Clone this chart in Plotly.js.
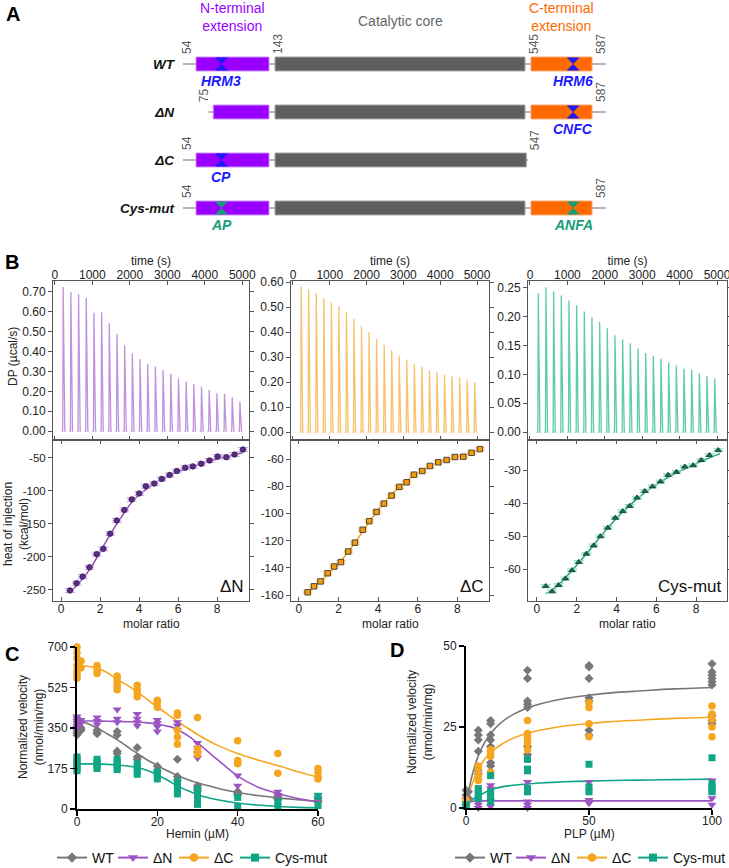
<!DOCTYPE html>
<html>
<head>
<meta charset="utf-8">
<script src="https://cdn.plot.ly/plotly-3.0.1.min.js"></script>
<style>
  html, body { margin: 0; padding: 0; background: #fff; }
  #fig { width: 729px; height: 868px; }
</style>
</head>
<body>
<div id="fig"></div>
<script>
// ================= A: construct map (residue numbers) =================
const constructs   = ['WT', 'ΔN', 'ΔC', 'Cys-mut'];
const nextStart    = [54, 75, 54, 54];
const nextEnd      = [143, 143, 143, 143];
const coreStart    = [143, 143, 143, 143];
const coreEnd      = [545, 545, 547, 545];
const cextStart    = [545, 545, null, 545];
const cextEnd      = [587, 587, null, 587];
const motifNPos    = [85, null, 85, 85];
const motifNLabel  = ['HRM3', '', 'CP', 'AP'];
const motifCPos    = [574, 574, null, 574];
const motifCLabel  = ['HRM6', 'CNFC', '', 'ANFA'];
const motifMutated = [false, false, false, true];
const boundaryLabels = [[54, 143, 545, 587], [75, 587], [54, 547], [54, 587]];

// ================= B: ITC =================
const injTime = [210, 415, 620, 825, 1030, 1235, 1440, 1645, 1850, 2055, 2260, 2465,
                 2670, 2875, 3080, 3285, 3490, 3695, 3900, 4105, 4310, 4515, 4720, 4925];
const dpDN  = [0.725, 0.700, 0.690, 0.670, 0.595, 0.598, 0.542, 0.488, 0.432, 0.392, 0.362, 0.337,
               0.325, 0.307, 0.287, 0.265, 0.248, 0.237, 0.223, 0.207, 0.190, 0.187, 0.170, 0.148];
const dpDC  = [0.582, 0.569, 0.556, 0.536, 0.519, 0.503, 0.480, 0.453, 0.423, 0.399, 0.372, 0.350,
               0.327, 0.306, 0.290, 0.273, 0.261, 0.247, 0.239, 0.230, 0.223, 0.219, 0.210, 0.199];
const dpCys = [0.241, 0.251, 0.244, 0.237, 0.228, 0.220, 0.209, 0.199, 0.191, 0.180, 0.168, 0.161,
               0.154, 0.145, 0.137, 0.132, 0.127, 0.121, 0.116, 0.110, 0.108, 0.101, 0.097, 0.093];

const mrDN   = [0.46, 0.80, 1.11, 1.46, 1.83, 2.17, 2.52, 2.86, 3.25, 3.63, 4.01, 4.35,
                4.78, 5.17, 5.57, 5.94, 6.37, 6.76, 7.19, 7.62, 8.03, 8.48, 8.90, 9.33];
const heatDN = [-251, -240, -230, -216, -196, -188, -165, -145, -129, -113, -104, -93,
                -89, -82, -76, -70, -65, -63, -59, -54, -48, -49, -45, -37.5];
const fitDNx = [0.45, 1, 1.5, 2, 2.5, 3, 3.5, 4, 4.5, 5, 5.5, 6, 6.5, 7, 7.5, 8, 8.5, 9, 9.3];
const fitDNy = [-254, -237, -218, -193, -167, -144, -122, -106, -95, -85, -78, -71, -66, -61, -56.5, -52, -48.5, -45, -42];

const mrDC   = [0.44, 0.76, 1.09, 1.45, 1.78, 2.12, 2.49, 2.83, 3.22, 3.55, 3.92, 4.29,
                4.68, 5.07, 5.44, 5.81, 6.23, 6.62, 7.04, 7.46, 7.88, 8.30, 8.72, 9.14];
const heatDC = [-158, -153.6, -150, -144, -139, -135.8, -128, -121.5, -112, -105.7, -98.9, -92.8,
                -86.9, -80.5, -77.1, -71.5, -68.8, -65.1, -62.4, -60.7, -58.5, -58.3, -55.4, -52.7];
const fitDCx = [0.4, 1, 1.5, 2, 2.5, 3, 3.5, 4, 4.5, 5, 5.5, 6, 6.5, 7, 7.5, 8, 8.5, 9, 9.2];
const fitDCy = [-159, -151, -144, -137, -128, -118, -107.5, -97.5, -89, -81.5, -75.5, -70.5, -66.5, -63, -60.5, -58.5, -56.5, -54, -53];

const mrCys   = [0.44, 0.76, 1.09, 1.43, 1.76, 2.10, 2.48, 2.85, 3.19, 3.56, 3.94, 4.31,
                 4.66, 5.03, 5.42, 5.81, 6.21, 6.59, 7.01, 7.43, 7.85, 8.26, 8.67, 9.11];
const heatCys = [-65.2, -66.8, -64.9, -62.9, -60.4, -57.9, -55.4, -52.9, -50.1, -47.5, -44.5, -42.5,
                 -40.9, -38.4, -36.4, -35.0, -33.5, -31.5, -30.6, -29.0, -28.6, -27.0, -25.5, -24.0];
const fitCysX = [0.44, 1, 1.5, 2, 2.5, 3, 3.5, 4, 4.5, 5, 5.5, 6, 6.5, 7, 7.5, 8, 8.5, 9, 9.2];
const fitCysY = [-67.5, -65.3, -62.2, -58.8, -55.3, -51.6, -48, -44.6, -41.6, -38.9, -36.5, -34.4, -32.5, -30.9, -29.5, -28.1, -26.8, -25.5, -25];

// ================= C: hemin inhibition =================
const heminWT  = [0, 1, 5, 10, 15, 20, 25, 30, 40, 50, 60];
const velWT    = [[355, 340, 330, 320], [350, 340], [340, 330, 325], [335, 320, 250, 240], [265, 225, 215],
                  [185, 165], [215, 140, 125], [100, 90, 80], [75, 65, 60], [55, 45, 40], [45, 35, 30]];
const heminDN  = [0, 1, 5, 10, 15, 20, 25, 30, 40, 50, 60];
const velDN    = [[400, 390, 380, 370, 360, 350], [385, 370], [395, 380, 365], [430, 390, 375], [410, 390, 375, 360],
                  [385, 370, 355, 335], [375, 360, 340], [285, 265, 240, 220], [145, 100], [75, 60], [60, 45]];
const heminDC  = [0, 1, 5, 10, 15, 20, 25, 30, 40, 50, 60];
const velDC    = [[700, 675, 650, 620, 600, 585, 575, 565], [640, 610], [620, 610, 595, 585], [575, 560, 545, 530, 515],
                  [535, 515, 500, 485], [470, 460, 440], [415, 405, 340, 310, 280], [395, 260, 245, 235],
                  [295, 210, 200, 195], [240, 155], [175, 160, 140, 130]];
const heminCys = [0, 5, 10, 15, 20, 25, 30, 40, 50, 60];
const velCys   = [[225, 215, 205, 195, 185, 175, 165], [215, 205, 195, 185, 175], [215, 205, 195, 180, 170],
                  [195, 180, 165, 150], [160, 145, 130], [120, 100, 80, 65], [85, 60, 35, 20], [50, 10], [30, 10], [55, 15]];

const heminFitX = [0, 2.5, 5, 7.5, 10, 12.5, 15, 17.5, 20, 22.5, 25, 27.5, 30, 35, 40, 45, 50, 55, 60];
const fitC_WT   = [378, 370, 350, 325, 300, 270, 240, 212, 188, 165, 145, 128, 113, 90, 71, 58, 48, 40, 33];
const fitC_DN   = [380, 380, 380, 379, 378, 377, 376, 372, 366, 358, 345, 318, 286, 213, 142, 95, 67, 45, 30];
const fitC_DC   = [618, 617, 608, 590, 560, 535, 506, 473, 441, 410, 378, 350, 322, 275, 240, 212, 188, 161, 138];
const fitC_Cys  = [195, 195, 195, 193, 190, 186, 180, 166, 147, 125, 100, 80, 62, 40, 26, 17, 11, 7, 5];

// ================= D: PLP saturation =================
const plpWT  = [0, 1, 5, 10, 25, 50, 100];
const actWT  = [[5.5, 4, 3, 1], [5, 3], [24, 22.5, 21, 17.5, 11.5, 10.5], [27, 26, 22.5, 21, 19, 14, 13],
                [42.5, 40, 33, 32, 31, 19, 16.5], [44, 43.5, 40, 34, 33, 24, 22.5], [44.5, 42, 41, 40, 39, 38, 28.5, 27, 26]];
const plpDN  = [0, 5, 10, 25, 50, 100];
const actDN  = [[1.5, 1], [2, 1, 0], [7, 6, 2, 0.5], [8, 2, 1, 0], [8, 2.5, 1.5], [8.5, 3, 1]];
const plpDC  = [0, 5, 10, 25, 50, 100];
const actDC  = [[2.5, 1.5, 0.5], [13, 12, 10, 8.5], [18, 17, 16, 11, 10], [27, 23, 22, 21, 20, 18],
                [32.5, 31, 26, 22], [31.5, 29, 27.5, 25, 22]];
const plpCys = [0, 5, 10, 25, 50, 100];
const actCys = [[1, 0.5], [6, 5, 4, 3], [10, 5, 4, 3, 2], [15, 12, 11.5, 6, 5], [13.5, 6.5, 5], [15.5, 7.5, 6.5, 5.5, 5]];

const plpFitX  = [0, 1, 2, 3, 5, 7.5, 10, 15, 20, 25, 30, 40, 50, 60, 70, 80, 90, 100];
const fitD_WT  = [0, 4.8, 8.5, 11.5, 16.1, 20.1, 23.0, 26.8, 29.2, 30.9, 32.1, 33.8, 34.8, 35.6, 36.1, 36.6, 36.9, 37.2];
const fitD_DN  = [0, 1.7, 2.0, 2.1, 2.15, 2.2, 2.2, 2.2, 2.2, 2.2, 2.2, 2.2, 2.2, 2.2, 2.2, 2.2, 2.2, 2.2];
const fitD_DC  = [0, 3.6, 6.3, 8.4, 11.9, 15.0, 17.1, 19.9, 21.8, 23.1, 24.0, 25.3, 26.1, 26.7, 27.1, 27.5, 27.8, 28.0];
const fitD_Cys = [0, 1.2, 2.1, 2.8, 3.8, 4.7, 5.6, 6.6, 7.1, 7.4, 7.7, 8.1, 8.3, 8.5, 8.6, 8.7, 8.8, 8.9];

const seriesNames = ['WT', 'ΔN', 'ΔC', 'Cys-mut'];

// ================= styling / geometry =================
const W = 729, H = 868;
const fx = px => px / W;
const fy = py => 1 - py / H;
const FONT = 'Liberation Sans, Arial, Helvetica, sans-serif';

const COL = {
  purpleDom: '#9a00ff', coreDom: '#5f5f5f', orangeDom: '#ff6a00',
  motif: '#1a1aff', motifMut: '#159e78',
  wt: '#777777', dn: '#9b55c2', dc: '#f6a61e', cys: '#10a585'
};

const traces = [];
const annotations = [];
const layout = {
  width: W, height: H,
  margin: { l: 0, r: 0, t: 0, b: 0, autoexpand: false },
  paper_bgcolor: '#fff', plot_bgcolor: 'rgba(0,0,0,0)',
  font: { family: FONT, size: 12, color: '#222' },
  showlegend: true, barmode: 'overlay', hovermode: false,
  annotations: annotations
};

// rotated axis title placed beside an axis
function sideTitle(text, xpx, ypx) {
  annotations.push({
    xref: 'paper', yref: 'paper', x: fx(xpx), y: fy(ypx), xanchor: 'center', yanchor: 'middle',
    textangle: -90, text: text, showarrow: false, font: { size: 12, color: '#222' }
  });
}
// axis title placed just under an axis
function underTitle(text, axisRef, ypx) {
  annotations.push({
    xref: axisRef + ' domain', yref: 'paper', x: 0.5, y: fy(ypx), xanchor: 'center', yanchor: 'middle',
    text: text, showarrow: false, font: { size: 12, color: '#222' }
  });
}
// tick labels written with a plain hyphen for negatives
function ticksFrom(vals) { return { tickvals: vals, ticktext: vals.map(v => String(v)) }; }

// ---------- Panel A ----------
const AX = {
  x:  { px: [183, 272], range: [38.15, 146.66] },
  x2: { px: [272, 528], range: [138.18, 549.82] },
  x3: { px: [528, 606], range: [542.93, 596.64] }
};
const resPerPx = a => (AX[a].range[1] - AX[a].range[0]) / (AX[a].px[1] - AX[a].px[0]);
['x', 'x2', 'x3'].forEach(a => {
  layout[a === 'x' ? 'xaxis' : 'xaxis' + a.slice(1)] = {
    domain: [fx(AX[a].px[0]), fx(AX[a].px[1])], range: AX[a].range,
    visible: false, anchor: 'y', fixedrange: true
  };
});
layout.yaxis = {
  domain: [fy(232), fy(40)], type: 'category', categoryarray: constructs, categoryorder: 'array',
  range: [3.5, -0.5], anchor: 'x', showline: false, showgrid: false, zeroline: false, ticks: '',
  ticklabelstandoff: 8,
  tickfont: { size: 13.5, color: '#111', weight: 'bold', style: 'italic' }
};

function rowDomains(i) {
  const d = [];
  if (nextStart[i] != null) d.push({ ax: 'x',  s: nextStart[i], e: nextEnd[i] });
  if (coreStart[i] != null) d.push({ ax: 'x2', s: coreStart[i], e: coreEnd[i] });
  if (cextStart[i] != null) d.push({ ax: 'x3', s: cextStart[i], e: cextEnd[i] });
  return d;
}
const fullStart = Math.min(...nextStart);
const fullEnd = Math.max(...cextEnd.filter(v => v != null));

// backbone: a thin bar under the domains, split per axis
const bb = { x: { y: [], base: [], len: [] }, x2: { y: [], base: [], len: [] }, x3: { y: [], base: [], len: [] } };
constructs.forEach((name, i) => {
  const doms = rowDomains(i);
  doms.forEach((d, k) => {
    const lead = (d.s === fullStart ? 13 : 5) * resPerPx(d.ax);
    const tail = (d.e === fullEnd ? 14 : 5) * resPerPx(d.ax);
    const x0 = k === 0 ? d.s - lead : AX[d.ax].range[0];
    const x1 = k === doms.length - 1 ? d.e + tail : AX[d.ax].range[1];
    bb[d.ax].y.push(name); bb[d.ax].base.push(x0); bb[d.ax].len.push(x1 - x0);
  });
});
Object.keys(bb).forEach(a => traces.push({
  type: 'bar', orientation: 'h', y: bb[a].y, base: bb[a].base, x: bb[a].len, width: 0.045,
  xaxis: a, yaxis: 'y', marker: { color: '#b4b4b4', line: { width: 0 } },
  showlegend: false, hoverinfo: 'skip'
}));

// domain bars
function domainBar(ax, starts, ends, color, edge) {
  const y = [], base = [], len = [];
  constructs.forEach((name, i) => {
    if (starts[i] == null) return;
    y.push(name); base.push(starts[i]); len.push(ends[i] - starts[i]);
  });
  traces.push({
    type: 'bar', orientation: 'h', y: y, base: base, x: len, width: 0.29,
    xaxis: ax, yaxis: 'y', marker: { color: color, line: { color: edge, width: 1 } },
    showlegend: false, hoverinfo: 'skip'
  });
}
domainBar('x',  nextStart, nextEnd, COL.purpleDom, '#c98cff');
domainBar('x2', coreStart, coreEnd, COL.coreDom, '#a0a0a0');
domainBar('x3', cextStart, cextEnd, COL.orangeDom, '#ffa66a');

// heme-regulatory motifs
function motifs(ax, pos, labels) {
  const x = [], y = [], c = [];
  constructs.forEach((name, i) => {
    if (pos[i] == null) return;
    const color = motifMutated[i] ? COL.motifMut : COL.motif;
    x.push(pos[i]); y.push(name); c.push(color);
    annotations.push({
      xref: ax, yref: 'y', x: pos[i], y: i, yshift: -17, showarrow: false,
      text: '<b><i>' + labels[i] + '</i></b>', font: { size: 14, color: color },
      xanchor: 'center', yanchor: 'middle'
    });
  });
  traces.push({
    type: 'scatter', mode: 'markers', x: x, y: y, xaxis: ax, yaxis: 'y',
    marker: { symbol: 'hourglass', size: 13, color: c }, showlegend: false, hoverinfo: 'skip'
  });
}
motifs('x', motifNPos, motifNLabel);
motifs('x3', motifCPos, motifCLabel);

// boundary residue numbers
constructs.forEach((name, i) => {
  const doms = rowDomains(i);
  boundaryLabels[i].forEach(res => {
    let ax, anchor;
    if (res === doms[0].s) { ax = doms[0].ax; anchor = 'right'; }
    else { ax = doms.find(d => d.e === res).ax; anchor = 'left'; }
    annotations.push({
      xref: ax, yref: 'y', x: res, y: i, yshift: 8, textangle: -90,
      text: String(res), showarrow: false, xanchor: anchor, yanchor: 'bottom',
      font: { size: 12, color: '#5a5a5a' }
    });
  });
});

// domain headings
annotations.push(
  { xref: 'x', yref: 'paper', x: (nextStart[0] + nextEnd[0]) / 2, y: fy(17), text: 'N-terminal<br>extension',
    showarrow: false, font: { size: 14, color: COL.purpleDom }, yanchor: 'middle' },
  { xref: 'x2', yref: 'paper', x: (coreStart[0] + coreEnd[0]) / 2, y: fy(21), text: 'Catalytic core',
    showarrow: false, font: { size: 14, color: '#666' }, yanchor: 'middle' },
  { xref: 'x3', yref: 'paper', x: (cextStart[0] + cextEnd[0]) / 2, y: fy(17), text: 'C-terminal<br>extension',
    showarrow: false, font: { size: 14, color: COL.orangeDom }, yanchor: 'middle' }
);

// ---------- Panel B ----------
const colsB = [[53, 249], [291, 489], [528, 727]];
const topRanges = [[-50, 5180], [-54, 5326], [-53, 5267]];
const dpRanges = [[-0.045, 0.755], [-0.032, 0.604], [-0.0138, 0.262]];
const dpDtick = [0.1, 0.1, 0.05];
const heatRanges = [[-267, -23], [-164.4, -46], [-69.7, -20.9]];
const heatTicks = [[-250, -200, -150, -100, -50], [-160, -140, -120, -100, -80, -60], [-60, -50, -40, -30]];
const mrRanges = [[-0.41, 9.64], [-0.4, 9.6], [-0.45, 9.55]];
const dpSets = [dpDN, dpDC, dpCys];
const spikeColors = ['rgba(172,108,212,0.75)', 'rgba(247,178,70,0.8)', 'rgba(40,185,140,0.75)'];
const bindSets = [
  { x: mrDN, y: heatDN, fx: fitDNx, fy: fitDNy, sym: 'circle', mc: '#5b2c83', ml: '#3a1a55', err: '#cba6e4', fit: '#8e44ad', ey: 3, label: 'ΔN' },
  { x: mrDC, y: heatDC, fx: fitDCx, fy: fitDCy, sym: 'square', mc: '#f39c12', ml: '#2a2a2a', err: '#f9cd8e', fit: '#f4a013', ey: 1.2, label: 'ΔC' },
  { x: mrCys, y: heatCys, fx: fitCysX, fy: fitCysY, sym: 'triangle-up', mc: '#1d6b54', ml: '#0e3a2d', err: '#93dcc5', fit: '#17a383', ey: 0.45, label: 'Cys-mut' }
];
const frame = {
  showline: true, linecolor: '#555', linewidth: 1, mirror: 'ticks', showgrid: false, zeroline: false,
  tickfont: { size: 12, color: '#222' }, ticklen: 4, tickcolor: '#555', fixedrange: true,
  ticklabeloverflow: 'allow'
};

colsB.forEach((c, k) => {
  const xt = 4 + k, yt = 2 + k, xb = 7 + k, yb = 5 + k;
  layout['xaxis' + xt] = Object.assign({}, frame, {
    domain: [fx(c[0]), fx(c[1])], range: topRanges[k], anchor: 'y' + yt, side: 'top',
    ticks: 'inside', dtick: 1000, tick0: 0, ticklabelstandoff: -4,
    title: { text: 'time (s)', font: { size: 12 }, standoff: 0 }
  });
  layout['yaxis' + yt] = Object.assign({}, frame, {
    domain: [fy(440), fy(281)], range: dpRanges[k], anchor: 'x' + xt,
    ticks: 'outside', dtick: dpDtick[k], tick0: 0, tickformat: '.2f'
  });
  layout['xaxis' + xb] = Object.assign({}, frame, {
    domain: [fx(c[0]), fx(c[1])], range: mrRanges[k], anchor: 'y' + yb,
    ticks: 'inside', dtick: 2, tick0: 0, ticklabelstandoff: -3
  });
  layout['yaxis' + yb] = Object.assign({}, frame, ticksFrom(heatTicks[k]), {
    domain: [fy(601), fy(440)], range: heatRanges[k], anchor: 'x' + xb, ticks: 'outside',
    tickfont: { size: 11.5, color: '#222' }
  });
  underTitle('molar ratio', 'x' + xb, 624);

  // raw thermogram: one spike per injection
  const tx = [], ty = [];
  injTime.forEach((t, i) => {
    tx.push(t - 35, t, t + 12, t + 55, t + 80, null);
    ty.push(0, 0, dpSets[k][i], 0, 0, null);
  });
  traces.push({
    type: 'scatter', mode: 'lines', x: tx, y: ty, xaxis: 'x' + xt, yaxis: 'y' + yt,
    line: { color: spikeColors[k], width: 1.3 }, showlegend: false, hoverinfo: 'skip'
  });

  // integrated heats with fit
  const b = bindSets[k];
  traces.push({
    type: 'scatter', mode: 'lines', x: b.fx, y: b.fy, xaxis: 'x' + xb, yaxis: 'y' + yb,
    line: { color: b.fit, width: 1.4, shape: 'spline', smoothing: 0.8 }, showlegend: false, hoverinfo: 'skip'
  });
  traces.push({
    type: 'scatter', mode: 'markers', x: b.x, y: b.y, xaxis: 'x' + xb, yaxis: 'y' + yb,
    marker: { symbol: b.sym, size: 5.5, color: b.mc, line: { color: b.ml, width: 0.8 } },
    error_x: { type: 'constant', value: 0.22, color: b.err, thickness: 1.4, width: 0 },
    error_y: { type: 'constant', value: b.ey, color: b.err, thickness: 1, width: 5 },
    showlegend: false, hoverinfo: 'skip'
  });
  annotations.push({
    xref: 'x' + xb + ' domain', yref: 'y' + yb + ' domain', x: 0.985, y: 0.02,
    xanchor: 'right', yanchor: 'bottom', showarrow: false, text: b.label,
    font: { size: 17, color: '#111' }
  });
});
sideTitle('DP (µcal/s)', 13, 357);
sideTitle('heat of injection<br>(kcal/mol)', 16, 524);

// ---------- Panels C and D ----------
const prism = {
  showline: true, linecolor: '#000', linewidth: 2, showgrid: false, zeroline: false,
  ticks: 'outside', ticklen: 5, tickwidth: 1.5, tickcolor: '#000',
  tickfont: { size: 12, color: '#222' }, fixedrange: true
};
layout.xaxis10 = Object.assign({}, prism, {
  domain: [fx(77), fx(318)], range: [0, 60], anchor: 'y8', tickvals: [0, 20, 40, 60],
  ticklabelstandoff: -4
});
layout.yaxis8 = Object.assign({}, prism, {
  domain: [fy(809), fy(647)], range: [0, 700], anchor: 'x10', tickvals: [0, 175, 350, 525, 700]
});
layout.xaxis11 = Object.assign({}, prism, {
  domain: [fx(466), fx(712)], range: [0, 100], anchor: 'y9', tickvals: [0, 50, 100],
  ticklabelstandoff: -4
});
layout.yaxis9 = Object.assign({}, prism, {
  domain: [fy(808), fy(646)], range: [0, 50], anchor: 'x11', tickvals: [0, 25, 50]
});
sideTitle('Normalized velocity<br>(nmol/min/mg)', 31, 727);
sideTitle('Normalized velocity<br>(nmol/min/mg)', 420, 722);
underTitle('Hemin (µM)', 'x10', 834);
underTitle('PLP (µM)', 'x11', 834);

function flat(levels, reps) {
  const x = [], y = [];
  levels.forEach((c, i) => reps[i].forEach(v => { x.push(c); y.push(v); }));
  return { x: x, y: y };
}
const styles = [
  { color: COL.wt,  sym: 'diamond',       size: 7 },
  { color: COL.dn,  sym: 'triangle-down', size: 8 },
  { color: COL.dc,  sym: 'circle',        size: 7.5 },
  { color: COL.cys, sym: 'square',        size: 7 }
];
// legend entry widths (text part) so the keys sit as compactly as printed
const keyTextWidth = [16, 16, 16, 56];
function kineticPanel(xa, ya, fitX, fits, levelSets, repSets, legendId) {
  fits.forEach((f, s) => traces.push({
    type: 'scatter', mode: 'lines', x: fitX, y: f, xaxis: xa, yaxis: ya,
    line: { color: styles[s].color, width: 1.6, shape: 'spline', smoothing: 0.6 },
    showlegend: false, hoverinfo: 'skip', cliponaxis: false
  }));
  repSets.forEach((r, s) => {
    const d = flat(levelSets[s], r);
    traces.push({
      type: 'scatter', mode: 'markers', x: d.x, y: d.y, xaxis: xa, yaxis: ya,
      marker: { symbol: styles[s].sym, size: styles[s].size, color: styles[s].color },
      cliponaxis: false, showlegend: false, hoverinfo: 'skip'
    });
  });
  seriesNames.forEach((n, s) => traces.push({
    type: 'scatter', mode: 'lines+markers', x: [null], y: [null], xaxis: xa, yaxis: ya,
    name: n, legend: legendId, legendwidth: keyTextWidth[s],
    line: { color: styles[s].color, width: 2 },
    marker: { symbol: styles[s].sym, size: styles[s].size + 1, color: styles[s].color }
  }));
}
kineticPanel('x10', 'y8', heminFitX, [fitC_WT, fitC_DN, fitC_DC, fitC_Cys],
  [heminWT, heminDN, heminDC, heminCys], [velWT, velDN, velDC, velCys], 'legend');
kineticPanel('x11', 'y9', plpFitX, [fitD_WT, fitD_DN, fitD_DC, fitD_Cys],
  [plpWT, plpDN, plpDC, plpCys], [actWT, actDN, actDC, actCys], 'legend2');

const legendStyle = {
  orientation: 'h', yanchor: 'middle', xanchor: 'left', bgcolor: 'rgba(0,0,0,0)',
  font: { size: 14, color: '#111' }, itemwidth: 30, tracegroupgap: 0
};
layout.legend = Object.assign({}, legendStyle, { x: fx(52), y: fy(858) });
layout.legend2 = Object.assign({}, legendStyle, { x: fx(450), y: fy(858) });

// panel letters
[['A', 4, 14], ['B', 3, 262], ['C', 3, 654], ['D', 388, 650]].forEach(p => annotations.push({
  xref: 'paper', yref: 'paper', x: fx(p[1]), y: fy(p[2]), xanchor: 'left', yanchor: 'middle',
  text: '<b>' + p[0] + '</b>', showarrow: false, font: { size: 20, color: '#000' }
}));

Plotly.newPlot('fig', traces, layout, { staticPlot: true, displayModeBar: false });
</script>
</body>
</html>
